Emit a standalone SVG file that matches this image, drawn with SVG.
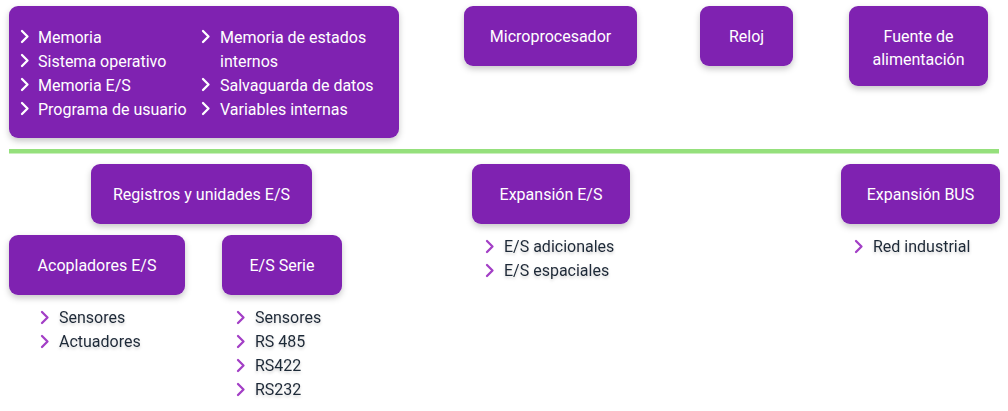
<svg xmlns="http://www.w3.org/2000/svg" width="1008" height="411" viewBox="0 0 1008 411">
<defs>
<filter id="sh" x="-20%" y="-20%" width="140%" height="160%">
<feDropShadow dx="0" dy="3" stdDeviation="3" flood-color="#000" flood-opacity="0.22"/>
</filter>
<filter id="ts" x="-10%" y="-30%" width="120%" height="180%">
<feDropShadow dx="0" dy="2" stdDeviation="1.5" flood-color="#000" flood-opacity="0.18"/>
</filter>
<path id="chev" d="M0,0 L5.5,5.5 L0,11" fill="none" stroke-width="2.3" stroke-linecap="round" stroke-linejoin="round"/>
</defs>
<style>
.box{fill:#7f24b1;filter:url(#sh)}
.bt{font-family:Roboto,"Liberation Sans",sans-serif;font-size:16px;fill:#fff;text-anchor:middle}
.wt{font-family:Roboto,"Liberation Sans",sans-serif;font-size:16px;fill:#fff}
.lt{font-family:Roboto,"Liberation Sans",sans-serif;font-size:16px;fill:#1f2937;filter:url(#ts)}
.wc{stroke:#fff}
.pc{stroke:#a33fc6}
</style>
<rect width="1008" height="411" fill="#fff"/>
<g id="connectors">
<rect x="9" y="149" width="990" height="4.5" fill="#95e07c"/>
</g>
<g id="memoria">
<rect class="box" x="9" y="6" width="390" height="132" rx="9"/>
<use href="#chev" class="wc" x="22" y="31"/><text class="wt" x="38" y="43">Memoria</text>
<use href="#chev" class="wc" x="22" y="55"/><text class="wt" x="38" y="67">Sistema operativo</text>
<use href="#chev" class="wc" x="22" y="79"/><text class="wt" x="38" y="91">Memoria E/S</text>
<use href="#chev" class="wc" x="22" y="103"/><text class="wt" x="38" y="115">Programa de usuario</text>
<use href="#chev" class="wc" x="203" y="31"/><text class="wt" x="220" y="43">Memoria de estados</text>
<text class="wt" x="220" y="67">internos</text>
<use href="#chev" class="wc" x="203" y="79"/><text class="wt" x="220" y="91">Salvaguarda de datos</text>
<use href="#chev" class="wc" x="203" y="103"/><text class="wt" x="220" y="115">Variables internas</text>
</g>
<g id="microprocesador">
<rect class="box" x="464" y="6" width="173" height="60" rx="9"/>
<text class="bt" x="550.5" y="42">Microprocesador</text>
</g>
<g id="reloj">
<rect class="box" x="700" y="6" width="93" height="60" rx="9"/>
<text class="bt" x="746.5" y="42">Reloj</text>
</g>
<g id="fuente">
<rect class="box" x="849" y="6" width="139" height="80" rx="9"/>
<text class="bt" x="918.5" y="42">Fuente de</text>
<text class="bt" x="918.5" y="65">alimentación</text>
</g>
<g id="registros">
<rect class="box" x="91" y="164" width="221" height="60" rx="9"/>
<text class="bt" x="201.5" y="200">Registros y unidades E/S</text>
</g>
<g id="acopladores">
<rect class="box" x="9" y="235" width="176" height="60" rx="9"/>
<text class="bt" x="97" y="271">Acopladores E/S</text>
<use href="#chev" class="pc" x="42" y="312"/><text class="lt" x="59" y="323">Sensores</text>
<use href="#chev" class="pc" x="42" y="336"/><text class="lt" x="59" y="347">Actuadores</text>
</g>
<g id="serie">
<rect class="box" x="222" y="235" width="120" height="60" rx="9"/>
<text class="bt" x="282" y="271">E/S Serie</text>
<use href="#chev" class="pc" x="238" y="312"/><text class="lt" x="255" y="323">Sensores</text>
<use href="#chev" class="pc" x="238" y="336"/><text class="lt" x="255" y="347">RS 485</text>
<use href="#chev" class="pc" x="238" y="360"/><text class="lt" x="255" y="371">RS422</text>
<use href="#chev" class="pc" x="238" y="384"/><text class="lt" x="255" y="395">RS232</text>
</g>
<g id="expansion-es">
<rect class="box" x="472" y="164" width="158" height="60" rx="9"/>
<text class="bt" x="551" y="200">Expansión E/S</text>
<use href="#chev" class="pc" x="487" y="241"/><text class="lt" x="504" y="252">E/S adicionales</text>
<use href="#chev" class="pc" x="487" y="265"/><text class="lt" x="504" y="276">E/S espaciales</text>
</g>
<g id="expansion-bus">
<rect class="box" x="841" y="164" width="159" height="60" rx="9"/>
<text class="bt" x="920.5" y="200">Expansión BUS</text>
<use href="#chev" class="pc" x="856" y="241"/><text class="lt" x="873" y="252">Red industrial</text>
</g>
</svg>
